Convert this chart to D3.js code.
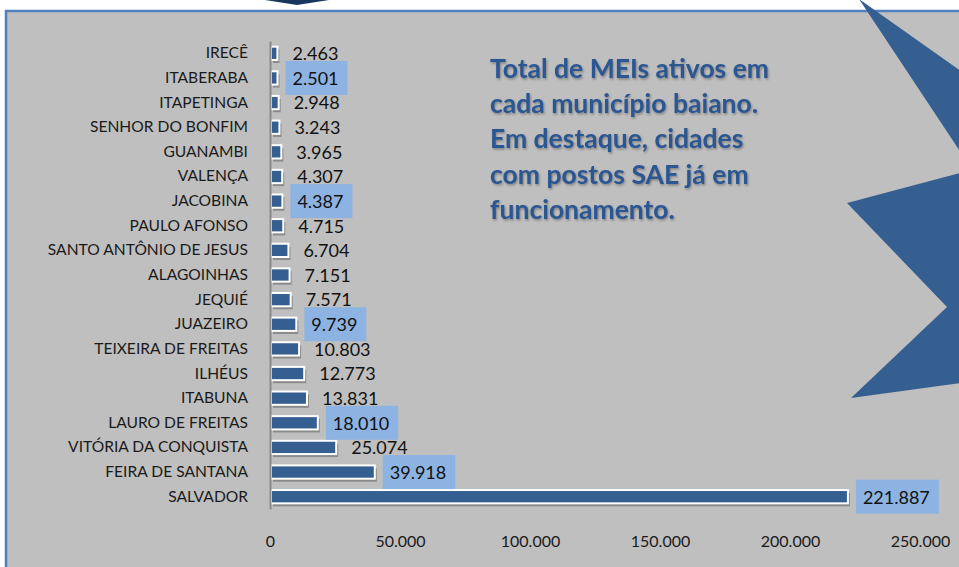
<!DOCTYPE html>
<html>
<head>
<meta charset="utf-8">
<script src="https://cdn.jsdelivr.net/npm/d3@7"></script>
<style>
  body { margin: 0; background: #fff; }
  svg { display: block; font-family: Lato, "Noto Sans", sans-serif; }
</style>
</head>
<body>
<div id="chart"></div>
<script>
var cities = ["IRECÊ", "ITABERABA", "ITAPETINGA", "SENHOR DO BONFIM", "GUANAMBI", "VALENÇA",
  "JACOBINA", "PAULO AFONSO", "SANTO ANTÔNIO DE JESUS", "ALAGOINHAS", "JEQUIÉ", "JUAZEIRO",
  "TEIXEIRA DE FREITAS", "ILHÉUS", "ITABUNA", "LAURO DE FREITAS", "VITÓRIA DA CONQUISTA",
  "FEIRA DE SANTANA", "SALVADOR"];
var values = [2463, 2501, 2948, 3243, 3965, 4307, 4387, 4715, 6704, 7151, 7571, 9739,
  10803, 12773, 13831, 18010, 25074, 39918, 221887];
// cidades com postos SAE
var highlighted = ["ITABERABA", "JACOBINA", "JUAZEIRO", "LAURO DE FREITAS", "FEIRA DE SANTANA", "SALVADOR"];
var ticks = [0, 50000, 100000, 150000, 200000, 250000];
var titleLines = ["Total de MEIs ativos em", "cada município baiano.", "Em destaque, cidades",
  "com postos SAE já em", "funcionamento."];

var data = cities.map((c, i) => ({ city: c, value: values[i], hl: highlighted.indexOf(c) >= 0 }));

var pt = d3.formatLocale({ decimal: ",", thousands: ".", grouping: [3], currency: ["R$", ""] });
var fmt = pt.format(",d");

var svg = d3.select("#chart").append("svg").attr("width", 959).attr("height", 567);

var defs = svg.append("defs");
defs.append("filter").attr("id", "tshadow")
  .attr("x", "-5%").attr("y", "-20%").attr("width", "110%").attr("height", "150%")
  .append("feDropShadow")
  .attr("dx", 1).attr("dy", 1.5).attr("stdDeviation", 0.8)
  .attr("flood-color", "#333").attr("flood-opacity", 0.45);

// frame
svg.append("rect")
  .attr("x", 6).attr("y", 11).attr("width", 970).attr("height", 570)
  .attr("fill", "#bfbfbf").attr("stroke", "#4f81bd").attr("stroke-width", 2.5);

// decorative shapes
svg.append("polygon").attr("points", "265,0 329,0 297,5").attr("fill", "#17375e");
svg.append("polygon").attr("points", "859,-1 975,81 975,174").attr("fill", "#365f91");
svg.append("polygon").attr("points", "975,169 847,203 947,307 851,398 975,381").attr("fill", "#365f91");

var x = d3.scaleLinear().domain([0, 250000]).range([270, 920]);
var y = d3.scaleBand().domain(cities).range([41, 509]).paddingInner(0.46).paddingOuter(0.23);

// eixo x
var xAxis = svg.append("g")
  .attr("transform", "translate(0,536)")
  .call(d3.axisBottom(x).tickValues(ticks).tickFormat(fmt).tickSize(0).tickPadding(0));
xAxis.select(".domain").remove();
xAxis.selectAll("text")
  .attr("font-family", "Lato, sans-serif").attr("font-size", 16).attr("fill", "#1a1a1a")
  .attr("dy", "0.71em");

// bars
var bars = svg.append("g");
bars.selectAll("rect.shadow").data(data).enter().append("rect")
  .attr("class", "shadow")
  .attr("x", x(0) + 3)
  .attr("y", (d) => y(d.city) + 3)
  .attr("width", (d) => x(d.value) - x(0))
  .attr("height", y.bandwidth())
  .attr("fill", "#8a8a8a");

// eixo y
var yAxis = svg.append("g")
  .attr("transform", `translate(${x(0)},0)`)
  .call(d3.axisLeft(y).tickSize(0).tickPadding(22).tickSizeOuter(0));
yAxis.select(".domain").attr("stroke", "#8a8a8a").attr("stroke-width", 2);
yAxis.selectAll("text")
  .attr("font-family", "Lato, sans-serif").attr("font-size", 15.6).attr("fill", "#1a1a1a");

bars.selectAll("rect.bar").data(data).enter().append("rect")
  .attr("class", "bar")
  .attr("x", x(0) + 1)
  .attr("y", (d) => y(d.city))
  .attr("width", (d) => x(d.value) - x(0))
  .attr("height", y.bandwidth())
  .attr("fill", "#365f91")
  .attr("stroke", "#fff").attr("stroke-width", 2);

// value labels
var labels = svg.append("g").selectAll("g").data(data).enter().append("g")
  .attr("transform", (d) => `translate(${x(d.value)},${y(d.city) + y.bandwidth() / 2})`);

labels.append("text")
  .attr("x", 16).attr("dy", "0.38em")
  .attr("font-size", 18).attr("fill", "#111")
  .text((d) => fmt(d.value));

labels.filter((d) => d.hl).each(function () {
  var g = d3.select(this);
  var w = g.select("text").node().getComputedTextLength();
  g.insert("rect", "text")
    .attr("x", 9).attr("y", -17)
    .attr("width", w + 16).attr("height", 34)
    .attr("fill", "#8db3e2");
});

// title
svg.append("text")
  .attr("x", 490).attr("y", 78)
  .attr("font-size", 26.5).attr("font-weight", "bold").attr("fill", "#2b5692")
  .attr("filter", "url(#tshadow)")
  .selectAll("tspan").data(titleLines).enter().append("tspan")
  .attr("x", 490).attr("dy", (d, i) => (i ? 35.2 : 0))
  .text((d) => d);
</script>
</body>
</html>
